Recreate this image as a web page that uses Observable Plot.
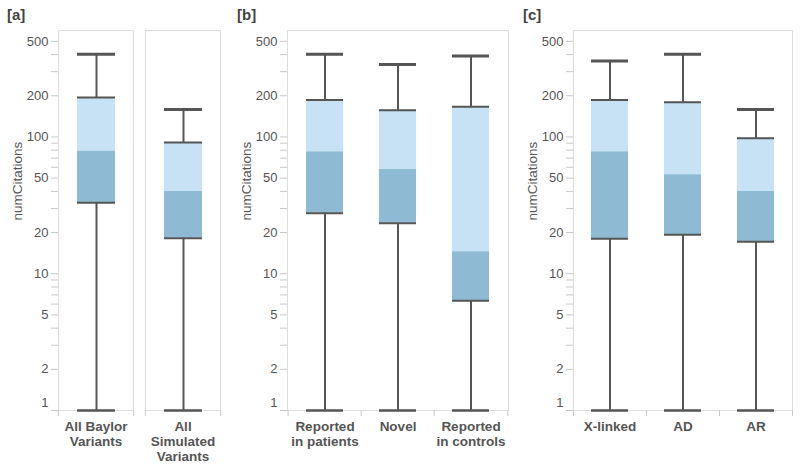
<!DOCTYPE html>
<html><head><meta charset="utf-8">
<script src="https://cdn.jsdelivr.net/npm/d3@7"></script>
<script src="https://cdn.jsdelivr.net/npm/@observablehq/plot@0.6"></script>
<style>
body{margin:0;background:#fff;font-family:"Liberation Sans",Arial,sans-serif}
#root{position:relative;width:800px;height:467px;overflow:hidden;background:#fff}
.panel{position:absolute;top:0}
.tag{position:absolute;top:7px;font:bold 15px "Liberation Sans",Arial,sans-serif;color:#444;line-height:1}
</style></head><body><div id="root"></div>
<script>
// ---- data ----
const panelTags = ["[a]", "[b]", "[c]"];
const yTitle = "numCitations";
const yLabelTicks = [2, 5, 10, 20, 50, 100, 200, 500];
const yBottomTick = [1];
const yMinorTicks = [1,2,3,4,5,6,7,8,9,10,20,30,40,50,60,70,80,90,100,200,300,400,500];

const catsA = ["All Baylor Variants", "All Simulated Variants"];
const labelsA = ["All Baylor\nVariants", "All\nSimulated\nVariants"];
const minA = [1, 1];
const q1A = [33, 18.2];
const medA = [79, 40];
const q3A = [194, 91];
const maxA = [402, 159];

const catsB = ["Reported in patients", "Novel", "Reported in controls"];
const labelsB = ["Reported\nin patients", "Novel", "Reported\nin controls"];
const minB = [1, 1, 1];
const q1B = [27.7, 23.4, 6.35];
const medB = [78, 58, 14.5];
const q3B = [186, 157, 166];
const maxB = [402, 339, 390];

const catsC = ["X-linked", "AD", "AR"];
const labelsC = ["X-linked", "AD", "AR"];
const minC = [1, 1, 1];
const q1C = [18, 19.3, 17.1];
const medC = [78, 53, 40];
const q3C = [186, 179, 98];
const maxC = [359, 402, 159];

// ---- style ----
const DARK = "#8ebad3", LIGHT = "#c6e2f4", LINE = "#555", TXT = "#555", GRID = "#ddd", TICK = "#c8c8c8";
const FONT = "Liberation Sans, Arial, sans-serif";

function rows(cats, labels, mn, q1, md, q3, mx) {
  return cats.map((c, i) => ({cat: c, label: labels[i], min: mn[i], q1: q1[i], med: md[i], q3: q3[i], max: mx[i]}));
}

function boxMarks(data, ch) {
  return [
    Plot.barY(data, {...ch, y1: "q1", y2: "med", fill: DARK}),
    Plot.barY(data, {...ch, y1: "med", y2: "q3", fill: LIGHT}),
    Plot.ruleX(data, {...ch, y1: "min", y2: "q1", stroke: LINE, strokeWidth: 2}),
    Plot.ruleX(data, {...ch, y1: "q3", y2: "max", stroke: LINE, strokeWidth: 2}),
    Plot.tickY(data, {...ch, y: "q1", stroke: LINE, strokeWidth: 2}),
    Plot.tickY(data, {...ch, y: "q3", stroke: LINE, strokeWidth: 2}),
    Plot.tickY(data, {...ch, y: "min", stroke: LINE, strokeWidth: 2.5}),
    Plot.tickY(data, {...ch, y: "max", stroke: LINE, strokeWidth: 3})
  ];
}

function yAxisMarks(extra) {
  return [
    Plot.axisY({ticks: yMinorTicks, tickSize: 7, tickFormat: () => "", stroke: TICK, label: null}),
    Plot.text(yLabelTicks, {...extra, y: d => d, text: d => String(d), frameAnchor: "left", textAnchor: "end", dx: -10, fontSize: 13, fill: TXT}),
    Plot.text(yBottomTick, {...extra, y: d => d, text: d => String(d), frameAnchor: "left", textAnchor: "end", dx: -10, dy: -8, fontSize: 13, fill: TXT}),
    Plot.text([yTitle], {...extra, text: d => d, frameAnchor: "left", rotate: -90, dx: -41, lineAnchor: "middle", fontSize: 13.5, fill: TXT})
  ];
}

const H = 467, MT = 30, MB = 57, ML = 57;
const yScale = {type: "log", domain: [1, 600]};
const root = document.getElementById("root");

function place(svg, left) {
  const d = document.createElement("div");
  d.className = "panel"; d.style.left = left + "px";
  d.appendChild(svg); root.appendChild(d);
}

// Panel a (faceted, one frame per category)
{
  const data = rows(catsA, labelsA, minA, q1A, medA, q3A, maxA);
  const W = 228, MR = 8;
  const pin = 0.14;
  const step = (W - ML - MR) / (catsA.length - pin);
  const half = step * (1 - pin) / 2;
  const ch = {fx: "cat", x: () => "v"};
  const chart = Plot.plot({
    width: W, height: H, marginTop: MT, marginBottom: MB, marginLeft: ML, marginRight: MR,
    style: {fontFamily: FONT, background: "transparent"},
    y: yScale,
    x: {domain: ["v"], paddingInner: 0.5, paddingOuter: 0.25, axis: null},
    fx: {domain: catsA, paddingInner: pin, paddingOuter: 0, label: null},
    marks: [
      Plot.frame({stroke: GRID}),
      ...yAxisMarks({fx: () => catsA[0]}),
      ...boxMarks(data, ch),
      Plot.axisFx({anchor: "bottom", tickSize: 0, tickPadding: 10, tickFormat: d => labelsA[catsA.indexOf(d)], fontWeight: "bold", fontSize: 13.5, fill: TXT, lineHeight: 1.1, label: null}),
      Plot.axisFx({anchor: "bottom", tickSize: 6, tickFormat: () => "", stroke: TICK, dx: -half, label: null}),
      Plot.axisFx({anchor: "bottom", tickSize: 6, tickFormat: () => "", stroke: TICK, dx: half, label: null})
    ]
  });
  place(chart, 0);
}

function bandPanel(cats, labels, mn, q1, md, q3, mx, left, W, MR) {
  const data = rows(cats, labels, mn, q1, md, q3, mx);
  const step = (W - ML - MR) / cats.length;
  const ch = {x: "cat"};
  const chart = Plot.plot({
    width: W, height: H, marginTop: MT, marginBottom: MB, marginLeft: ML, marginRight: MR,
    style: {fontFamily: FONT, background: "transparent"},
    y: yScale,
    x: {domain: cats, paddingInner: 0.5, paddingOuter: 0.25, label: null},
    marks: [
      Plot.frame({stroke: GRID}),
      ...yAxisMarks({}),
      ...boxMarks(data, ch),
      Plot.axisX({anchor: "bottom", tickSize: 0, tickPadding: 10, tickFormat: d => labels[cats.indexOf(d)], fontWeight: "bold", fontSize: 13.5, fill: TXT, lineHeight: 1.1, label: null}),
      Plot.axisX({anchor: "bottom", tickSize: 6, tickFormat: () => "", stroke: TICK, dx: -step / 2, label: null}),
      Plot.axisX({anchor: "bottom", ticks: [cats[cats.length - 1]], tickSize: 6, tickFormat: () => "", stroke: TICK, dx: step / 2, label: null})
    ]
  });
  place(chart, left);
}

bandPanel(catsB, labelsB, minB, q1B, medB, q3B, maxB, 230, 280, 2);
bandPanel(catsC, labelsC, minC, q1C, medC, q3C, maxC, 516, 284, 8);

// panel tags
[7, 237, 523].forEach((x, i) => {
  const t = document.createElement("div");
  t.className = "tag"; t.style.left = x + "px"; t.textContent = panelTags[i];
  root.appendChild(t);
});
</script>
</body></html>
